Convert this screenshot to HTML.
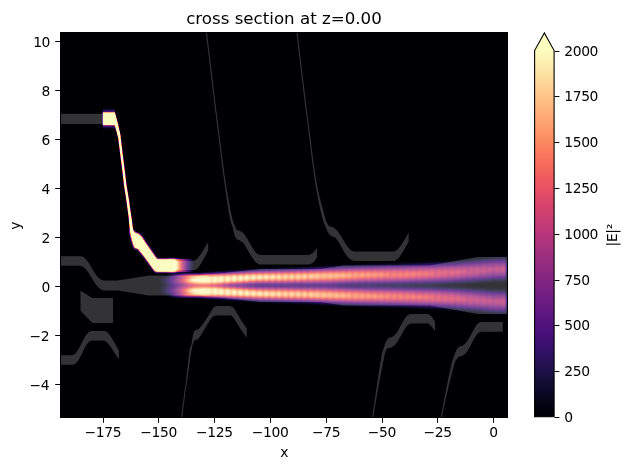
<!DOCTYPE html>
<html><head><meta charset="utf-8"><title>cross section at z=0.00</title>
<style>html,body{margin:0;padding:0;background:#fff}svg{display:block}text{font-family:"DejaVu Sans","Liberation Sans",sans-serif;fill:#000}</style></head><body>
<svg width="628" height="470" viewBox="0 0 628 470">
<defs>
<clipPath id="ax"><rect x="60.5" y="32.5" width="447" height="385"/></clipPath>
<filter id="cm" filterUnits="userSpaceOnUse" x="59.5" y="31.5" width="449" height="387" color-interpolation-filters="sRGB"><feComponentTransfer><feFuncR type="table" tableValues="0.0015 0.0060 0.0137 0.0248 0.0396 0.0566 0.0743 0.0929 0.1131 0.1351 0.1590 0.1848 0.2117 0.2388 0.2654 0.2914 0.3167 0.3415 0.3660 0.3904 0.4147 0.4391 0.4635 0.4881 0.5128 0.5378 0.5629 0.5882 0.6136 0.6392 0.6649 0.6907 0.7164 0.7420 0.7674 0.7924 0.8169 0.8406 0.8633 0.8847 0.9043 0.9219 0.9372 0.9502 0.9609 0.9697 0.9767 0.9823 0.9867 0.9901 0.9928 0.9947 0.9961 0.9969 0.9973 0.9973 0.9969 0.9962 0.9951 0.9939 0.9924 0.9909 0.9894 0.9880 0.9871"/><feFuncG type="table" tableValues="0.0005 0.0048 0.0118 0.0207 0.0311 0.0422 0.0520 0.0599 0.0655 0.0684 0.0684 0.0657 0.0620 0.0595 0.0602 0.0646 0.0717 0.0806 0.0903 0.1004 0.1104 0.1203 0.1299 0.1392 0.1482 0.1569 0.1654 0.1737 0.1818 0.1899 0.1981 0.2064 0.2150 0.2240 0.2337 0.2442 0.2559 0.2690 0.2837 0.3005 0.3196 0.3411 0.3649 0.3908 0.4183 0.4469 0.4762 0.5059 0.5356 0.5653 0.5949 0.6243 0.6537 0.6828 0.7118 0.7408 0.7696 0.7983 0.8271 0.8557 0.8843 0.9129 0.9415 0.9700 0.9914"/><feFuncB type="table" tableValues="0.0139 0.0371 0.0687 0.1007 0.1335 0.1674 0.2027 0.2392 0.2768 0.3150 0.3527 0.3880 0.4186 0.4433 0.4618 0.4755 0.4854 0.4926 0.4980 0.5019 0.5047 0.5066 0.5077 0.5080 0.5076 0.5066 0.5047 0.5020 0.4985 0.4941 0.4888 0.4826 0.4753 0.4670 0.4578 0.4475 0.4365 0.4247 0.4124 0.4000 0.3881 0.3774 0.3686 0.3625 0.3596 0.3603 0.3645 0.3719 0.3822 0.3951 0.4103 0.4274 0.4462 0.4665 0.4882 0.5110 0.5349 0.5598 0.5857 0.6125 0.6401 0.6685 0.6975 0.7271 0.7495"/></feComponentTransfer></filter>
<filter id="b1" filterUnits="userSpaceOnUse" x="40.5" y="12.5" width="487" height="425" color-interpolation-filters="sRGB"><feGaussianBlur stdDeviation="0.9"/></filter>
<filter id="b05" filterUnits="userSpaceOnUse" x="40.5" y="12.5" width="487" height="425" color-interpolation-filters="sRGB"><feGaussianBlur stdDeviation="0.8"/></filter>
<filter id="b03" filterUnits="userSpaceOnUse" x="40.5" y="12.5" width="487" height="425" color-interpolation-filters="sRGB"><feGaussianBlur stdDeviation="0.35"/></filter>
<filter id="bg" filterUnits="userSpaceOnUse" x="40.5" y="12.5" width="487" height="425" color-interpolation-filters="sRGB"><feGaussianBlur stdDeviation="1.0"/><feComponentTransfer><feFuncA type="linear" slope="2.2" intercept="0"/></feComponentTransfer></filter>
<filter id="b2" filterUnits="userSpaceOnUse" x="40.5" y="12.5" width="487" height="425" color-interpolation-filters="sRGB"><feGaussianBlur stdDeviation="1.6"/></filter>
<filter id="bx" filterUnits="userSpaceOnUse" x="40.5" y="12.5" width="487" height="425" color-interpolation-filters="sRGB"><feGaussianBlur stdDeviation="3 0.6"/></filter>
<linearGradient id="amp" gradientUnits="userSpaceOnUse" x1="150" y1="0" x2="508" y2="0">
<stop offset="0.0000" stop-color="#000" stop-opacity="1.000"/>
<stop offset="0.0251" stop-color="#000" stop-opacity="1.000"/>
<stop offset="0.0419" stop-color="#000" stop-opacity="0.900"/>
<stop offset="0.0559" stop-color="#000" stop-opacity="0.780"/>
<stop offset="0.0726" stop-color="#000" stop-opacity="0.580"/>
<stop offset="0.0894" stop-color="#000" stop-opacity="0.320"/>
<stop offset="0.1061" stop-color="#000" stop-opacity="0.100"/>
<stop offset="0.1229" stop-color="#000" stop-opacity="0.000"/>
<stop offset="0.2374" stop-color="#000" stop-opacity="0.000"/>
<stop offset="0.3073" stop-color="#000" stop-opacity="0.070"/>
<stop offset="0.4190" stop-color="#000" stop-opacity="0.140"/>
<stop offset="0.5307" stop-color="#000" stop-opacity="0.230"/>
<stop offset="0.6145" stop-color="#000" stop-opacity="0.300"/>
<stop offset="0.6983" stop-color="#000" stop-opacity="0.330"/>
<stop offset="0.7821" stop-color="#000" stop-opacity="0.390"/>
<stop offset="0.8659" stop-color="#000" stop-opacity="0.480"/>
<stop offset="0.9218" stop-color="#000" stop-opacity="0.550"/>
<stop offset="0.9637" stop-color="#000" stop-opacity="0.580"/>
<stop offset="1.0000" stop-color="#000" stop-opacity="0.530"/>
</linearGradient>
<linearGradient id="ripg" x1="0" y1="0" x2="1" y2="0"><stop offset="0" stop-color="#000" stop-opacity="0"/><stop offset="0.5" stop-color="#000" stop-opacity="0.11"/><stop offset="1" stop-color="#000" stop-opacity="0"/></linearGradient>
<pattern id="rip" patternUnits="userSpaceOnUse" x="215" y="0" width="6.4" height="100"><rect x="0" y="0" width="6.4" height="100" fill="url(#ripg)"/></pattern>
<linearGradient id="rip2g" x1="0" y1="0" x2="1" y2="0"><stop offset="0" stop-color="#000" stop-opacity="0"/><stop offset="0.5" stop-color="#000" stop-opacity="0.06"/><stop offset="1" stop-color="#000" stop-opacity="0"/></linearGradient>
<pattern id="rip2" patternUnits="userSpaceOnUse" x="215" y="0" width="6.4" height="100"><rect x="0" y="0" width="6.4" height="100" fill="url(#rip2g)"/></pattern>
<linearGradient id="cf" gradientUnits="userSpaceOnUse" x1="168" y1="0" x2="195" y2="0"><stop offset="0.000" stop-color="#fff" stop-opacity="1"/><stop offset="0.296" stop-color="#fff" stop-opacity="1"/><stop offset="0.370" stop-color="#fff" stop-opacity="0.9"/><stop offset="0.426" stop-color="#fff" stop-opacity="0.76"/><stop offset="0.556" stop-color="#fff" stop-opacity="0.5"/><stop offset="0.685" stop-color="#fff" stop-opacity="0.3"/><stop offset="0.833" stop-color="#fff" stop-opacity="0.12"/><stop offset="1.000" stop-color="#fff" stop-opacity="0"/></linearGradient>
<linearGradient id="ce" gradientUnits="userSpaceOnUse" x1="174" y1="0" x2="194" y2="0"><stop offset="0" stop-color="#fff" stop-opacity="0.9"/><stop offset="0.35" stop-color="#fff" stop-opacity="0.6"/><stop offset="0.7" stop-color="#fff" stop-opacity="0.3"/><stop offset="1" stop-color="#fff" stop-opacity="0"/></linearGradient>
<linearGradient id="fr" gradientUnits="userSpaceOnUse" x1="0" y1="106.6" x2="0" y2="130.8"><stop offset="0" stop-color="#fff" stop-opacity="0"/><stop offset="0.1" stop-color="#fff" stop-opacity="0.04"/><stop offset="0.23" stop-color="#fff" stop-opacity="0.3"/><stop offset="0.77" stop-color="#fff" stop-opacity="0.3"/><stop offset="0.9" stop-color="#fff" stop-opacity="0.05"/><stop offset="1" stop-color="#fff" stop-opacity="0"/></linearGradient>
<linearGradient id="cb" gradientUnits="userSpaceOnUse" x1="0" y1="416.8" x2="0" y2="50.6">
<stop offset="0.0000" stop-color="#000004"/>
<stop offset="0.0312" stop-color="#030312"/>
<stop offset="0.0625" stop-color="#0a0822"/>
<stop offset="0.0938" stop-color="#130d34"/>
<stop offset="0.1250" stop-color="#1d1147"/>
<stop offset="0.1562" stop-color="#29115a"/>
<stop offset="0.1875" stop-color="#36106b"/>
<stop offset="0.2188" stop-color="#440f76"/>
<stop offset="0.2500" stop-color="#51127c"/>
<stop offset="0.2812" stop-color="#5d177f"/>
<stop offset="0.3125" stop-color="#6a1c81"/>
<stop offset="0.3438" stop-color="#762181"/>
<stop offset="0.3750" stop-color="#832681"/>
<stop offset="0.4062" stop-color="#902a81"/>
<stop offset="0.4375" stop-color="#9c2e7f"/>
<stop offset="0.4688" stop-color="#aa337d"/>
<stop offset="0.5000" stop-color="#b73779"/>
<stop offset="0.5312" stop-color="#c43c75"/>
<stop offset="0.5625" stop-color="#d0416f"/>
<stop offset="0.5938" stop-color="#dc4869"/>
<stop offset="0.6250" stop-color="#e75263"/>
<stop offset="0.6562" stop-color="#ef5d5e"/>
<stop offset="0.6875" stop-color="#f56b5c"/>
<stop offset="0.7188" stop-color="#f9795d"/>
<stop offset="0.7500" stop-color="#fc8961"/>
<stop offset="0.7812" stop-color="#fd9869"/>
<stop offset="0.8125" stop-color="#fea772"/>
<stop offset="0.8438" stop-color="#feb67c"/>
<stop offset="0.8750" stop-color="#fec488"/>
<stop offset="0.9062" stop-color="#fed395"/>
<stop offset="0.9375" stop-color="#fde2a3"/>
<stop offset="0.9688" stop-color="#fcf0b2"/>
<stop offset="1.0000" stop-color="#fcfdbf"/>
</linearGradient>
</defs>
<rect x="0" y="0" width="628" height="470" fill="#fff"/>
<g clip-path="url(#ax)">
<g filter="url(#cm)">
<rect x="58.5" y="30.5" width="451" height="389" fill="#000"/>
<g filter="url(#b1)">
<path fill="#fff" fill-opacity="0.040" fill-rule="evenodd" d="M498.2,256 L506,255.76 L506.37,256.5 L506.68,258 L506.86,261 L506.9,275.5 L506.67,280.5 L506.35,282 L506,282.7 L494,282.9 L467.99,284.5 L463.25,285 L461.78,285.5 L463.25,286 L467.99,286.5 L494,288.1 L506,288.3 L506.5,289.5 L506.77,291.5 L506.93,302 L506.77,312 L506.51,314 L506,315.24 L494,314.9 L455,311.12 L430,309.61 L400,308.38 L365,307.3 L300,303.97 L258,302.46 L237.8,301 L215,299.17 L200,298.2 L189,297.81 L171,296.82 L169,296.46 L168,295.93 L164,295.51 L161.3,295 L160.22,294.5 L159.68,294 L159.12,293 L158.89,292 L159.09,290 L160.89,287 L161.3,285.5 L160.89,284 L159.09,281 L158.86,279.5 L159.12,278 L160,276.69 L161.3,276 L164,275.49 L168,275.07 L169,274.54 L170,274.32 L188,273.24 L200,272.8 L215,271.83 L228,270.67 L258,268.54 L300,267.03 L340,264.87 L368,263.57 L400,262.62 L430,261.39 L455,259.88 L494,256.1Z"/>
<path fill="#fff" fill-opacity="0.052" fill-rule="evenodd" d="M497.18,257.5 L506,257.2 L506.12,257.5 L506.48,259 L506.71,261.5 L506.84,271 L506.64,278 L506.39,280 L506,281.26 L494,281.42 L480,282.43 L442.99,284.5 L437.7,285 L435.98,285.5 L437.7,286 L442.99,286.5 L480,288.57 L494,289.58 L506,289.74 L506.39,291 L506.68,293.5 L506.84,302 L506.65,310.5 L506.39,312.5 L506,313.8 L494,313.42 L455,309.87 L430,308.46 L400,307.32 L368,306.46 L340,305.26 L300,303.25 L263,301.99 L258,301.83 L228,299.8 L200,297.35 L176,296.78 L170,296.23 L169,295.89 L168,295.15 L166,294.77 L163.99,294 L163,293.27 L162.37,292.5 L161.93,291 L162.04,290 L162.43,289 L164.2,286.5 L164.46,285.5 L164.2,284.5 L162.73,282.5 L162.04,281 L161.98,279.5 L162.37,278.5 L163,277.73 L164,277 L166,276.23 L168,275.85 L169,275.11 L170,274.77 L176,274.22 L200,273.65 L228,271.2 L258,269.17 L300,267.75 L340,265.74 L368,264.54 L400,263.68 L430,262.54 L455,261.13 L494,257.58Z"/>
<path fill="#fff" fill-opacity="0.066" fill-rule="evenodd" d="M493.52,259 L506,258.53 L506.56,262 L506.74,269 L506.55,276.5 L506,279.93 L494,280.05 L480,281.14 L455,282.73 L400,284.71 L382.04,285 L370.18,285.5 L382.04,286 L400,286.29 L455,288.27 L480,289.86 L494,290.95 L506,291.07 L506.55,294.5 L506.74,302 L506.56,309 L506,312.47 L494,312.05 L455,308.73 L430,307.42 L400,306.36 L368,305.58 L329,303.95 L300,302.57 L258,301.25 L228,299.32 L208,297.78 L200,296.94 L182,296.73 L174,296.41 L171,296.09 L169.35,295.5 L169.1,294.5 L167,293.31 L166,292.51 L165.32,291.5 L165.12,290.5 L165.53,289 L167.73,286.5 L168.08,285.5 L167.73,284.5 L165.86,282.5 L165.3,281.5 L165.12,280.5 L165.32,279.5 L166.55,278 L169.1,276.5 L169.35,275.5 L170.58,275 L173,274.66 L181,274.3 L200,274.06 L208,273.22 L228,271.68 L258,269.75 L300,268.43 L340,266.54 L368,265.42 L400,264.64 L430,263.58 L455,262.27Z"/>
<path fill="#fff" fill-opacity="0.082" fill-rule="evenodd" d="M503.01,260 L506,259.88 L506.22,261 L506.55,265 L506.61,271 L506.44,275.5 L506,278.59 L494,278.65 L480,279.83 L455,281.58 L430,282.59 L400,283.25 L350,283.89 L336.07,285 L334.18,285.5 L336.07,286 L350,287.11 L400,287.75 L430,288.41 L455,289.42 L480,291.17 L494,292.35 L506,292.41 L506.47,296 L506.62,302 L506.47,307.5 L506,311.12 L494,310.65 L480,309.43 L455,307.58 L430,306.39 L353,304.18 L300,301.93 L258,300.69 L211,297.76 L200,296.77 L186,296.64 L176,296.35 L172.11,296 L170.45,295.5 L170.64,295 L171.82,294.5 L171.96,294 L169.13,292 L168.71,291.5 L168.34,290.5 L168.53,289.5 L168.83,289 L171.52,286.5 L171.96,285.5 L171.52,284.5 L169.26,282.5 L168.37,281 L168.45,280 L169.13,279 L171.96,277 L171.82,276.5 L170.64,276 L170.45,275.5 L171,275.29 L173,274.87 L176,274.65 L200,274.23 L211,273.24 L258,270.31 L300,269.07 L340,267.3 L368,266.29 L400,265.59 L430,264.61 L455,263.42 L480,261.57 L494,260.35Z M258,285.34 L257.38,285.5 L258,285.66 L260,285.82 L270,285.5 L260,285.18Z"/>
<path fill="#fff" fill-opacity="0.103" fill-rule="evenodd" d="M502.05,261.5 L506,261.31 L506.36,264.5 L506.48,269 L506.35,274 L506,277.16 L494,277.15 L455,280.38 L430,281.51 L400,282.23 L350,282.95 L330,283.8 L300,284.08 L260,284.07 L251.26,284.5 L245.85,285 L244.09,285.5 L245.85,286 L251.26,286.5 L260,286.93 L300,286.92 L330,287.2 L350,288.05 L400,288.77 L430,289.49 L455,290.62 L494,293.85 L506,293.84 L506.35,297 L506.48,302 L506.36,306.5 L506,309.69 L494,309.15 L480,308.03 L455,306.38 L434,305.49 L400,304.43 L368,303.82 L340,302.91 L300,301.27 L258,300.13 L228,298.41 L222,297.92 L219,297.96 L213,297.68 L200,296.57 L183,296.41 L174,296.02 L171.66,295.5 L172.27,295 L174.68,294.5 L175.5,294 L173.52,293 L172.21,292 L171.58,291 L171.5,290 L171.97,289 L172.44,288.5 L175.49,286.5 L176,286 L176.16,285.5 L176,285 L175.49,284.5 L173.09,283 L172,282.03 L171.67,281.5 L171.47,280.5 L171.82,279.5 L172.77,278.5 L175.5,277 L174.68,276.5 L172.27,276 L171.66,275.5 L173.86,275 L176,274.8 L200,274.43 L213,273.32 L219,273.04 L222,273.08 L228,272.59 L258,270.87 L300,269.73 L340,268.09 L368,267.18 L400,266.57 L430,265.69 L455,264.62 L480,262.97 L494,261.85Z"/>
<path fill="#fff" fill-opacity="0.114" fill-rule="evenodd" d="M501.76,263 L506,262.76 L506.34,269 L506,275.7 L494,275.61 L474.8,277.5 L455,279.2 L430,280.48 L400,281.3 L350,282.18 L330,282.93 L300,283.31 L258,283.5 L239.73,284.5 L234.97,285 L233.42,285.5 L234.97,286 L239.73,286.5 L258,287.5 L300,287.69 L330,288.07 L350,288.82 L400,289.7 L430,290.52 L455,291.8 L474.8,293.5 L494,295.39 L506,295.3 L506.34,302 L506,308.24 L455,305.2 L442,304.74 L400,303.5 L361,302.79 L300,300.67 L258,299.61 L222,297.57 L214,297.54 L200,296.45 L186,296.38 L175.61,296 L172.88,295.5 L173.9,295 L177.47,294.5 L178.49,294 L175.02,292 L174.26,291 L174.2,290 L174.85,289 L175.49,288.5 L179.3,286.5 L179.94,286 L180.17,285.5 L179.94,285 L179.3,284.5 L175.49,282.5 L174.85,282 L174.2,281 L174.26,280 L175.02,279 L178.49,277 L177.47,276.5 L173.9,276 L172.88,275.5 L175.61,275 L178,274.86 L186,274.62 L200,274.55 L214,273.46 L222,273.43 L258,271.39 L300,270.33 L358,268.29 L400,267.5 L430,266.72 L455,265.8Z"/>
<path fill="#fff" fill-opacity="0.129" fill-rule="evenodd" d="M504.06,264.5 L506,264.37 L506.21,269 L506,274.1 L494,273.83 L475.03,276 L455,277.97 L430,279.42 L400,280.37 L350,281.43 L330,282.19 L300,282.67 L258,282.94 L230.34,284.5 L226.93,285 L225.79,285.5 L226.93,286 L230.34,286.5 L258,288.06 L300,288.33 L330,288.81 L350,289.57 L400,290.63 L430,291.58 L455,293.03 L475.03,295 L494,297.17 L506,296.9 L506.21,302 L506,306.63 L495,305.81 L480,305.05 L446,303.72 L400,302.57 L356,301.88 L300,300.08 L258,299.12 L222,297.24 L214,297.33 L209,297.11 L200,296.36 L186,296.29 L176,295.83 L174.09,295.5 L175,295.15 L180.18,294.5 L181.36,294 L179.04,293 L177.51,292 L177.06,291.5 L176.7,290.5 L177.06,289.5 L178,288.66 L179,288.11 L183.04,286.5 L183.83,286 L184.12,285.5 L183.83,285 L183.04,284.5 L178.24,282.5 L177.53,282 L176.79,281 L176.79,280 L177.51,279 L179.04,278 L181.36,277 L180.18,276.5 L176,276.08 L174.09,275.5 L176,275.17 L180,274.9 L200,274.64 L211,273.78 L217,273.62 L222,273.76 L258,271.88 L300,270.92 L355,269.15 L400,268.43 L455,267.03 L495,265.19Z"/>
<path fill="#fff" fill-opacity="0.148" fill-rule="evenodd" d="M505.94,266.5 L506,271.97 L500.07,271.5 L495,270.85 L485.76,272.5 L475.93,274 L460.53,276 L455,276.57 L434.5,278 L400,279.39 L368,280.11 L330,281.45 L300,282.04 L258,282.41 L229.13,284 L220.07,285 L218.83,285.5 L220.07,286 L229.13,287 L258,288.59 L300,288.96 L327.65,289.5 L368,290.89 L400,291.61 L430,292.72 L455,294.43 L475.93,297 L485.76,298.5 L495,300.15 L500.07,299.5 L506,299.03 L506,304.51 L498.25,303.5 L495,302.9 L490,303.09 L471,303 L447,302.45 L340,300.75 L300,299.5 L258,298.63 L222,296.9 L211,297.08 L200,296.28 L186,296.2 L177,295.73 L175.3,295.5 L176,295.28 L182.81,294.5 L184.02,294 L181.54,293 L179.8,292 L179.02,291 L179.08,290 L180,289.03 L180.92,288.5 L186.66,286.5 L187.66,286 L188.02,285.5 L187.66,285 L186.66,284.5 L180.92,282.5 L180,281.97 L179.08,281 L179.02,280 L179.8,279 L181.54,278 L184.02,277 L182.81,276.5 L177.4,276 L175.3,275.5 L179,275.1 L184,274.86 L200,274.72 L211,273.92 L222,274.1 L258,272.37 L300,271.5 L340,270.25 L368,269.69 L400,269.41 L430,268.91 L469,268.03 L489,267.9 L495,268.1 L498.25,267.5Z"/>
<path fill="#fff" fill-opacity="0.174" fill-rule="evenodd" d="M400.23,270.5 L446,270.24 L460,270.43 L465.45,271 L466.61,271.5 L466.44,272 L465.44,272.5 L459.11,274 L446.68,275.5 L430,276.93 L400,278.29 L368,279.19 L330,280.69 L300,281.4 L258,281.88 L222.77,284 L211.98,285 L209.9,285.5 L211.98,286 L222.77,287 L258,289.12 L300,289.6 L330,290.31 L368,291.81 L400,292.71 L428.74,294 L441.28,295 L455,296.39 L461.73,297.5 L465.44,298.5 L466.44,299 L466.61,299.5 L465.45,300 L462,300.44 L449,300.73 L361,300.32 L340,300 L300,298.91 L258,298.14 L219,296.44 L216,296.45 L213,296.87 L211,296.89 L200,296.2 L183,296 L176.72,295.5 L179.38,295 L185.29,294.5 L186.63,294 L183,292.59 L181.55,291.5 L181.19,290.5 L181.82,289.5 L183,288.74 L184.88,288 L190,286.62 L193.36,286 L194.64,285.5 L193.36,285 L190,284.38 L184.88,283 L183,282.26 L181.82,281.5 L181.19,280.5 L181.55,279.5 L183,278.41 L186.63,277 L185.29,276.5 L179.38,276 L177,275.47 L186,274.89 L200,274.8 L210,274.13 L213,274.13 L216,274.55 L219,274.56 L258,272.86 L300,272.09 L340,271 L368,270.61Z"/>
<path fill="#fff" fill-opacity="0.211" fill-rule="evenodd" d="M330.29,272 L367,271.66 L420,272.14 L429.84,272.5 L433.59,273 L434.26,273.5 L433.24,274 L430,274.67 L421.39,275.5 L400,276.89 L370,278.05 L339.28,279.5 L300,280.73 L269,281.17 L258,281.34 L215,284.09 L205,284.5 L198,284.31 L190,283.53 L187.63,283 L185,282.07 L183.55,281 L183.33,280.5 L183.64,279.5 L184.18,279 L186,278.06 L189.38,277 L188.14,276.5 L181.36,276 L178.41,275.5 L185.32,275 L200,274.88 L209,274.31 L212.52,274.5 L212.85,275 L215,275.1 L258,273.37 L300,272.71Z M193.78,287 L200,286.57 L206,286.53 L215,286.91 L258,289.66 L300,290.27 L326.06,291 L400,294.11 L421.39,295.5 L430,296.33 L433.24,297 L434.26,297.5 L433.59,298 L430,298.49 L412,299.02 L368,299.33 L340,299.19 L300,298.29 L258,297.63 L215,295.9 L212.85,296 L212.52,296.5 L210,296.69 L200,296.12 L184,295.93 L178.41,295.5 L181.36,295 L188.14,294.5 L189.38,294 L186.13,293 L184.18,292 L183.64,291.5 L183.33,290.5 L184.04,289.5 L186,288.51 L187.63,288 L190,287.47Z"/>
<path fill="#fff" fill-opacity="0.267" fill-rule="evenodd" d="M321.39,273 L340,272.77 L352,272.83 L363.39,273 L377.85,273.5 L385.52,274 L387.95,274.5 L387.01,275 L383.47,275.5 L356.61,277.5 L339.62,278.5 L300,280.01 L258,280.76 L233,282.43 L215,283.65 L206,283.86 L200,283.78 L192,283.17 L190,282.86 L187.2,282 L185.67,281 L185.4,280.5 L185.4,280 L186.27,279 L187.16,278.5 L192.25,277 L191.38,276.5 L184,276.07 L180.09,275.5 L186,275.08 L200,274.97 L209,274.45 L210.24,274.5 L210.23,275 L209.73,275.5 L212,275.57 L258,273.9Z M195.46,287.5 L205,287.13 L215,287.35 L258,290.24 L300.4,291 L330,292.06 L356.61,293.5 L383.47,295.5 L387.01,296 L387.95,296.5 L385.52,297 L380,297.38 L362,298.03 L340,298.23 L258,297.1 L212,295.43 L209.73,295.5 L210.23,296 L210.24,296.5 L209,296.55 L200,296.03 L184,295.8 L180.09,295.5 L184,294.93 L191.38,294.5 L192.25,294 L188.43,293 L186.27,292 L185.69,291.5 L185.4,291 L185.4,290.5 L186.26,289.5 L188,288.69 L190,288.14Z"/>
<path fill="#fff" fill-opacity="0.364" fill-rule="evenodd" d="M257.85,274.5 L316,274.05 L334,274.07 L346.9,274.5 L350.7,275 L351.09,275.5 L349.26,276 L340.73,277 L315,278.5 L300,279.15 L256,280.27 L215,283.25 L205,283.39 L198,283.15 L194,282.86 L190,282.1 L188.52,281.5 L187.8,281 L187.47,280.5 L187.45,280 L187.75,279.5 L188.39,279 L190.93,278 L194,277.24 L195.8,277 L194.95,276.5 L186,276.07 L181.77,275.5 L186,275.2 L200,275.06 L207,274.71 L208.62,275 L205.47,276 L208,276.1 L225,275.36Z M195.75,288 L205,287.61 L215,287.75 L258,290.87 L300,291.85 L324.89,293 L340,293.94 L349.26,295 L351.09,295.5 L350.7,296 L346.9,296.5 L340,296.84 L324,296.97 L258,296.5 L225,295.64 L208,294.9 L205.47,295 L208.62,296 L207,296.29 L200,295.94 L184,295.67 L181.77,295.5 L184,295.15 L194.95,294.5 L195.8,294 L193,293.52 L189.44,292.5 L188,291.71 L187.45,291 L187.47,290.5 L187.8,290 L189.68,289 L193,288.29Z"/>
<path fill="#fff" fill-opacity="0.500" fill-rule="evenodd" d="M201.45,275 L205,274.86 L207.31,275 L205,275.69 L200.34,276.5 L201,276.8 L225,275.71 L258,275.12 L295,275.15 L315,275.47 L319.91,276 L318.84,276.5 L315.02,277 L302.08,278 L292,278.42 L258,279.49 L225,282.26 L215,282.91 L205,283.01 L200,282.85 L194,282.33 L192.4,282 L190.77,281.5 L189.82,281 L189.4,280.5 L189.36,280 L189.69,279.5 L191.55,278.5 L194,277.79 L199.83,277 L199.44,276.5 L187.54,276 L183.21,275.5 L186,275.3Z M204.52,288 L215,288.09 L221.38,288.5 L258,291.51 L300,292.89 L315.02,294 L318.84,294.5 L319.91,295 L315.65,295.5 L303,295.79 L278,295.9 L258,295.88 L225,295.29 L201,294.2 L200.34,294.5 L205,295.31 L207.31,296 L206,296.13 L200,295.86 L186,295.7 L183.21,295.5 L187.54,295 L199.44,294.5 L199.83,294 L194,293.21 L191.55,292.5 L189.69,291.5 L189.36,291 L189.4,290.5 L189.82,290 L190.77,289.5 L194,288.67 L200,288.15Z"/>
<path fill="#fff" fill-opacity="1.000" fill-rule="evenodd" d="M202.77,275 L205.69,275 L204.54,275.5 L200,276.35 L189,275.87 L184.64,275.5 L186,275.4 L200,275.22Z M236.67,276 L266,276.08 L277.82,276.5 L280.17,277 L277.11,277.5 L270.34,278 L258,278.59 L233.95,281 L225,281.87 L215,282.56 L205,282.61 L200,282.4 L194,281.69 L192.15,281 L191.56,280.5 L191.45,280 L191.77,279.5 L192.51,279 L194,278.4 L200,277.47 L206,276.97 L225,276.08Z M202.1,288.5 L215.9,288.5 L225,289.13 L258,292.41 L277.11,293.5 L280.17,294 L277.82,294.5 L268,294.87 L255,295.05 L225,294.92 L206,294.03 L200,293.53 L193.68,292.5 L191.77,291.5 L191.45,291 L191.56,290.5 L192.15,290 L194,289.31Z M191,295 L200,294.65 L204.54,295.5 L205.69,296 L201,295.84 L184.64,295.5Z"/>
</g>
<rect x="208.6" y="250" width="12.8" height="72" fill="url(#rip2)"/>
<rect x="221.4" y="250" width="89.6" height="72" fill="url(#rip)"/>
<rect x="311" y="250" width="201" height="72" fill="url(#rip2)"/>
<g filter="url(#b05)">
<rect x="168" y="259.7" width="31" height="11.6" fill="url(#cf)"/>
</g>
<g filter="url(#b03)">
<rect x="174" y="259.5" width="20" height="0.9" fill="url(#ce)"/>
<rect x="174" y="270.6" width="20" height="0.9" fill="url(#ce)"/>
</g>
<g filter="url(#bg)">
<path fill="#fff" d="M130.3,230.5 L133.1,230.5 L133.7,232.6 C135,234.2 137.5,233.6 139.2,234.9 C140.5,235.9 141.3,237 142,238.2 L145.2,243.2 L156.7,259.8 L175.5,259.8 L175.5,271.3 L155.4,271.3 L145.4,257.3 L138,248.1 L134.9,247.8 L132.9,241.8 L131,234.1 Z"/>
</g>
<polygon filter="url(#b03)" fill="#fff" points="117.05,131 118.25,139 120.4,156.1 122.6,173.2 123.85,185.1 126.1,199.1 127.6,210 128.7,218.3 129.45,228 130.05,232 133.55,232 132.95,228 131.7,218.3 130.4,210 128.9,199.1 126.55,185.1 125.2,173.2 123,156.1 120.95,139 119.75,131"/>
<rect x="102.8" y="106.6" width="12.2" height="24.2" fill="url(#fr)"/>
<path fill="#fff" d="M102.8,112.2 L115,112.2 L118.5,125.6 L120.7,137 L118,137 L114.6,125.2 L102.8,125.2 Z"/>
</g>
<g fill="#fff" fill-opacity="0.2" stroke="none">
<rect x="59" y="113.8" width="44" height="10.2"/>
<path d="M59,256.3 L80.5,256.3 C90,256.3 94,280.6 104.5,280.6 L118,280.6 L148.8,275.4 L200,275.4 L260,269.1 L320.7,269.1 L343.6,265.6 L429.8,265.6 L477.7,256.9 L506.9,256.9 L506.9,314.1 L477.7,314.1 L429.8,305.4 L343.6,305.4 L320.7,301.9 L260,301.9 L200,295.6 L148.8,295.6 L118,290.4 L104.5,290.4 C94,290.4 89.5,265.8 79.5,265.8 L59,265.8 Z"/>
<polygon points="80.5,290.7 92.3,298 113,298 113,322.9 92.3,322.9 80.5,310.8"/>
<path d="M59,355.2 L71.5,355.2 C80,355.2 83,330.9 92.2,330.9 L104.8,330.9 C109,331.2 113,340.5 118.9,350.2 L118.9,359.7 C112.5,350 108,340.8 103.1,340.5 L92.5,340.5 C84,340.5 81,364.75 72.5,364.75 L59,364.75 Z"/>
<path d="M172,260.9 C175.17,260.9 187.35,260.92 191,260.9 C194.65,260.88 192.97,261.07 193.9,260.8 C194.83,260.53 195.43,260.45 196.6,259.3 C197.77,258.15 199.48,255.95 200.9,253.9 C202.32,251.85 203.88,249 205.1,247 C206.32,245 207.68,242.75 208.2,241.9 L208.2,250.2 C207.77,251.08 206.65,253.55 205.6,255.5 C204.55,257.45 203.13,259.85 201.9,261.9 C200.67,263.95 199.27,266.48 198.2,267.8 C197.13,269.12 196.45,269.45 195.5,269.8 C194.55,270.15 196.42,269.88 192.5,269.9 C188.58,269.92 175.42,269.9 172,269.9 L172,260.9 Z"/>
<path d="M181,418.5 C181.43,415.08 182.75,404.42 183.6,398 C184.45,391.58 185.12,387.83 186.1,380 C187.08,372.17 188.65,356.78 189.5,351 C190.35,345.22 190.53,348.32 191.2,345.3 C191.87,342.28 192.75,335.43 193.5,332.9 C194.25,330.37 194.67,330.93 195.7,330.1 C196.73,329.27 197.73,330.05 199.7,327.9 C201.67,325.75 205.25,320.5 207.5,317.2 C209.75,313.9 211.95,309.87 213.2,308.1 C214.45,306.33 214.35,306.97 215,306.6 C215.65,306.23 216.75,306.02 217.1,305.9 L230.1,305.9 C230.5,306.08 231.75,306.43 232.5,307 C233.25,307.57 233.12,307.05 234.6,309.3 C236.08,311.55 239.37,317.32 241.4,320.5 C243.43,323.68 245.9,327.08 246.8,328.4 L246.8,337.7 C245.7,336.15 242.23,331.45 240.2,328.4 C238.17,325.35 235.88,321.37 234.6,319.4 C233.32,317.43 233.15,317.25 232.5,316.6 C231.85,315.95 231,315.68 230.7,315.5 L215.4,315.5 C214.92,315.75 213.43,316.17 212.5,317 C211.57,317.83 211.38,318.03 209.8,320.5 C208.22,322.97 204.88,328.78 203,331.8 C201.12,334.82 199.72,337.25 198.5,338.6 C197.28,339.95 196.48,339.43 195.7,339.9 C194.92,340.37 194.52,339.55 193.8,341.4 C193.08,343.25 192.48,344.57 191.4,351 C190.32,357.43 188.42,372.17 187.3,380 C186.18,387.83 185.55,391.58 184.7,398 C183.85,404.42 182.62,415.08 182.2,418.5 Z"/>
<path d="M206.9,31 C208.58,45 213.92,90.17 217,115 C220.08,139.83 222.98,163.33 225.4,180 C227.82,196.67 229.88,207.28 231.5,215 C233.12,222.72 234.25,223.88 235.1,226.3 C235.95,228.72 235.83,228.75 236.6,229.5 C237.37,230.25 238.53,230.12 239.7,230.8 C240.87,231.48 242.3,232.2 243.6,233.6 C244.9,235 245.9,236.67 247.5,239.2 C249.1,241.73 251.68,246.45 253.2,248.8 C254.72,251.15 255.48,252.27 256.6,253.3 C257.72,254.33 259.35,254.72 259.9,255 L308.6,255 C309.25,254.72 311.09,254.52 312.5,253.3 C313.91,252.08 316.29,248.63 317.05,247.7 L317.05,257.3 C316.49,258.13 314.93,261.08 313.7,262.3 C312.47,263.52 310.37,264.22 309.7,264.6 L259.9,264.6 C259.35,264.32 257.72,263.83 256.6,262.9 C255.48,261.97 254.72,261.17 253.2,259 C251.68,256.83 249.1,252.53 247.5,249.9 C245.9,247.27 244.9,244.78 243.6,243.2 C242.3,241.62 240.83,241.07 239.7,240.4 C238.57,239.73 237.65,240.05 236.8,239.2 C235.95,238.35 235.35,237.45 234.6,235.3 C233.85,233.15 233.18,229.68 232.3,226.3 C231.42,222.92 230.68,222.72 229.3,215 C227.92,207.28 226.25,196.67 224,180 C221.75,163.33 218.85,139.83 215.8,115 C212.75,90.17 207.38,45 205.7,31 Z"/>
<path d="M297.4,31 C299.1,45 304.47,90.17 307.6,115 C310.73,139.83 313.4,163.33 316.2,180 C319,196.67 322.57,207.85 324.4,215 C326.23,222.15 326.35,221.02 327.2,222.9 C328.05,224.78 328.47,225.55 329.5,226.3 C330.53,227.05 332.1,226.65 333.4,227.4 C334.7,228.15 335.88,229.12 337.3,230.8 C338.72,232.48 340.2,234.87 341.9,237.5 C343.6,240.13 345.92,244.43 347.5,246.6 C349.08,248.77 350.27,249.68 351.4,250.5 C352.53,251.32 353.82,251.33 354.3,251.5 L394.4,251.5 C395.05,251.05 396.9,250.28 398.3,248.8 C399.7,247.32 401.07,245.32 402.8,242.6 C404.53,239.88 407.72,234.18 408.7,232.5 L408.7,241.5 C407.92,242.9 405.63,247.18 404,249.9 C402.37,252.62 400.5,255.95 398.9,257.8 C397.3,259.65 395.15,260.47 394.4,261 L354.3,261 C353.82,260.85 352.53,260.82 351.4,260.1 C350.27,259.38 348.9,258.4 347.5,256.7 C346.1,255 344.5,252.33 343,249.9 C341.5,247.47 339.82,244.17 338.5,242.1 C337.18,240.03 336.33,238.53 335.1,237.5 C333.87,236.47 332.32,236.83 331.1,235.9 C329.88,234.97 328.83,233.7 327.8,231.9 C326.77,230.1 325.93,227.92 324.9,225.1 C323.87,222.28 323.28,222.52 321.6,215 C319.92,207.48 317.33,196.67 314.8,180 C312.27,163.33 309.5,139.83 306.4,115 C303.3,90.17 297.9,45 296.2,31 Z"/>
<path d="M372,418.5 C372.58,414.58 373.97,405.08 375.5,395 C377.03,384.92 379.87,365.67 381.2,358 C382.53,350.33 382.75,351.63 383.5,349 C384.25,346.37 384.87,343.98 385.7,342.2 C386.53,340.42 387.47,339.15 388.5,338.3 C389.53,337.45 390.58,337.95 391.9,337.1 C393.22,336.25 394.9,335.17 396.4,333.2 C397.9,331.23 399.4,327.93 400.9,325.3 C402.4,322.67 404.08,319.18 405.4,317.4 C406.72,315.62 407.85,315.17 408.8,314.6 C409.75,314.03 410.72,314.1 411.1,314 L428,314 C428.57,314.38 430.22,314.98 431.4,316.3 C432.58,317.62 434.48,320.97 435.1,321.9 L435.1,331.2 C434.48,330.4 432.58,327.67 431.4,326.4 C430.22,325.13 428.57,324.07 428,323.6 L411.1,323.6 C410.53,323.88 408.83,324.27 407.7,325.3 C406.57,326.33 405.62,327.73 404.3,329.8 C402.98,331.87 401.3,335.25 399.8,337.7 C398.3,340.15 396.62,342.9 395.3,344.5 C393.98,346.1 393.03,346.7 391.9,347.3 C390.77,347.9 389.43,347.63 388.5,348.1 C387.57,348.57 387.05,348.45 386.3,350.1 C385.55,351.75 385.55,350.52 384,358 C382.45,365.48 378.82,384.92 377,395 C375.18,405.08 373.75,414.58 373.1,418.5 Z"/>
<path d="M440.6,418.5 C441.33,414.58 443.22,403.92 445,395 C446.78,386.08 449.78,371.5 451.3,365 C452.82,358.5 453.17,358.63 454.1,356 C455.03,353.37 455.97,350.8 456.9,349.2 C457.83,347.6 458.67,347.05 459.7,346.4 C460.73,345.75 461.87,346.15 463.1,345.3 C464.33,344.45 465.68,343.28 467.1,341.3 C468.52,339.32 470.1,336.03 471.6,333.4 C473.1,330.77 474.88,327.28 476.1,325.5 C477.32,323.72 478.07,323.3 478.9,322.7 C479.73,322.1 480.73,322.03 481.1,321.9 L502.8,321.9 L502.8,331.7 L481.1,331.7 C480.63,331.9 479.33,331.95 478.3,332.9 C477.27,333.85 476.22,335.25 474.9,337.4 C473.58,339.55 471.8,343.27 470.4,345.8 C469,348.33 467.72,351 466.5,352.6 C465.28,354.2 464.13,354.78 463.1,355.4 C462.07,356.02 461.23,355.83 460.3,356.3 C459.37,356.77 458.53,356.75 457.5,358.2 C456.47,359.65 455.92,358.87 454.1,365 C452.28,371.13 448.67,386.08 446.6,395 C444.53,403.92 442.52,414.58 441.7,418.5 Z"/>
</g>
</g>
<rect x="60.5" y="32.5" width="447" height="385" fill="none" stroke="#000" stroke-width="1.0"/>
<g stroke="#000" stroke-width="1.0">
<line x1="103.5" y1="418.0" x2="103.5" y2="422.8"/>
<line x1="158.5" y1="418.0" x2="158.5" y2="422.8"/>
<line x1="214.5" y1="418.0" x2="214.5" y2="422.8"/>
<line x1="270.5" y1="418.0" x2="270.5" y2="422.8"/>
<line x1="326.5" y1="418.0" x2="326.5" y2="422.8"/>
<line x1="382.5" y1="418.0" x2="382.5" y2="422.8"/>
<line x1="437.5" y1="418.0" x2="437.5" y2="422.8"/>
<line x1="493.5" y1="418.0" x2="493.5" y2="422.8"/>
<line x1="60.0" y1="384.5" x2="55.2" y2="384.5"/>
<line x1="60.0" y1="335.5" x2="55.2" y2="335.5"/>
<line x1="60.0" y1="286.5" x2="55.2" y2="286.5"/>
<line x1="60.0" y1="237.5" x2="55.2" y2="237.5"/>
<line x1="60.0" y1="188.5" x2="55.2" y2="188.5"/>
<line x1="60.0" y1="139.5" x2="55.2" y2="139.5"/>
<line x1="60.0" y1="90.5" x2="55.2" y2="90.5"/>
<line x1="60.0" y1="41.5" x2="55.2" y2="41.5"/>
</g>
<g font-size="13.89" letter-spacing="-0.35">
<text x="102.8" y="437.4" text-anchor="middle">−175</text>
<text x="158.6" y="437.4" text-anchor="middle">−150</text>
<text x="214.4" y="437.4" text-anchor="middle">−125</text>
<text x="270.2" y="437.4" text-anchor="middle">−100</text>
<text x="326" y="437.4" text-anchor="middle">−75</text>
<text x="381.8" y="437.4" text-anchor="middle">−50</text>
<text x="437.6" y="437.4" text-anchor="middle">−25</text>
<text x="493.4" y="437.4" text-anchor="middle">0</text>
<text x="49.3" y="389.6" text-anchor="end">−4</text>
<text x="49.3" y="340.6" text-anchor="end">−2</text>
<text x="50.1" y="291.6" text-anchor="end">0</text>
<text x="50.1" y="242.6" text-anchor="end">2</text>
<text x="50.1" y="193.6" text-anchor="end">4</text>
<text x="50.1" y="144.6" text-anchor="end">6</text>
<text x="50.1" y="95.6" text-anchor="end">8</text>
<text x="50.1" y="46.6" text-anchor="end">10</text>
<text x="284.2" y="456.8" text-anchor="middle">x</text>
<text transform="translate(19.6,225.7) rotate(-90)" text-anchor="middle">y</text>
</g>
<text x="284" y="24" font-size="16.67" text-anchor="middle">cross section at z=0.00</text>
<path d="M534.6,416.8 L534.6,50.6 L544.35,33 L554.1,50.6 L554.1,416.8 Z" fill="#fcfdbf"/>
<rect x="534.6" y="50.6" width="19.5" height="366.2" fill="url(#cb)"/>
<path d="M534.6,416.8 L534.6,50.6 L544.35,33 L554.1,50.6 L554.1,416.8 Z" fill="none" stroke="#000" stroke-width="1.1" stroke-linejoin="miter"/>
<g stroke="#000" stroke-width="1.0">
<line x1="554.6" y1="417.5" x2="559.4" y2="417.5"/>
<line x1="554.6" y1="371.5" x2="559.4" y2="371.5"/>
<line x1="554.6" y1="325.5" x2="559.4" y2="325.5"/>
<line x1="554.6" y1="280.5" x2="559.4" y2="280.5"/>
<line x1="554.6" y1="234.5" x2="559.4" y2="234.5"/>
<line x1="554.6" y1="188.5" x2="559.4" y2="188.5"/>
<line x1="554.6" y1="142.5" x2="559.4" y2="142.5"/>
<line x1="554.6" y1="96.5" x2="559.4" y2="96.5"/>
<line x1="554.6" y1="51.5" x2="559.4" y2="51.5"/>
</g>
<g font-size="13.89" letter-spacing="-0.35">
<text x="564.2" y="422.3">0</text>
<text x="564.2" y="376.3">250</text>
<text x="564.2" y="330.3">500</text>
<text x="564.2" y="285.3">750</text>
<text x="564.2" y="239.3">1000</text>
<text x="564.2" y="193.3">1250</text>
<text x="564.2" y="147.3">1500</text>
<text x="564.2" y="101.3">1750</text>
<text x="564.2" y="56.3">2000</text>
<text transform="translate(616.6,235.3) rotate(-90)" text-anchor="middle">|E|²</text>
</g>
</svg></body></html>
